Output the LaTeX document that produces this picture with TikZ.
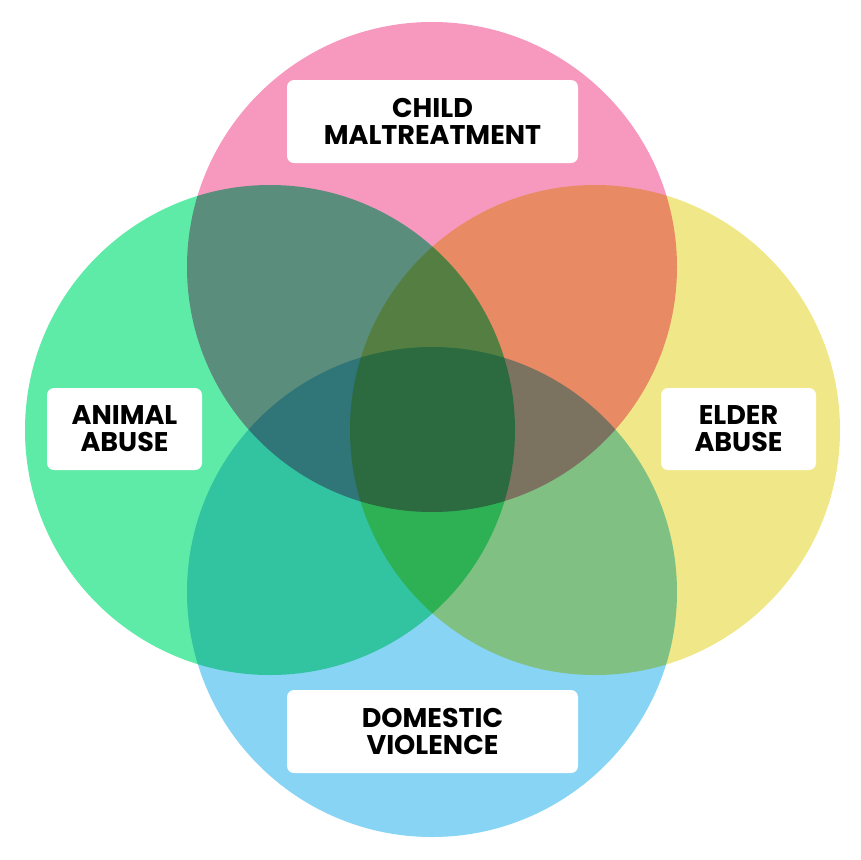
\documentclass[tikz,border=0pt]{standalone}
\usepackage{fontspec}
\setmainfont{Poppins}
\definecolor{cpink}{HTML}{F799BE}
\definecolor{cgreen}{HTML}{5EEBA8}
\definecolor{cyellow}{HTML}{F0E888}
\definecolor{cblue}{HTML}{88D4F4}
\begin{document}
\begin{tikzpicture}[x=1pt,y=-1pt,
  lbl/.style={fill=white,rounded corners=7pt,font=\fontsize{27}{27}\selectfont\bfseries,align=center,inner sep=0pt}]
\useasboundingbox (0,0) rectangle (860,860);
\begin{scope}[blend group=multiply]
\fill[cyellow] (595,430) circle (245);
\fill[cgreen] (270,430) circle (245);
\fill[cblue] (432,592) circle (245);
\fill[cpink] (432,267) circle (245);
\end{scope}
\node[lbl,minimum width=291pt,minimum height=83pt] (child) at (432.5,121.5) {CHILD\\MALTREATMENT};
\node[lbl,minimum width=155pt,minimum height=82pt] (animal) at (124.5,429) {ANIMAL\\ABUSE};
\node[lbl,minimum width=155pt,minimum height=82pt] (elder) at (738.5,429) {ELDER\\ABUSE};
\node[lbl,minimum width=291pt,minimum height=83pt] (dv) at (432.5,731.5) {DOMESTIC\\VIOLENCE};
\end{tikzpicture}
\end{document}
